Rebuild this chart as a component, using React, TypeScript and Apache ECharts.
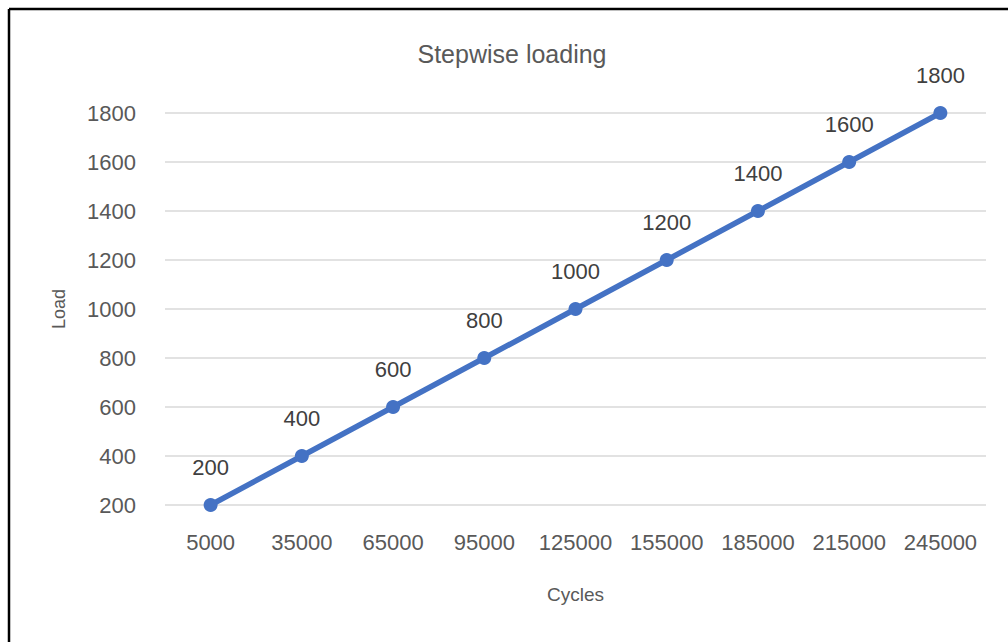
import React, { useEffect, useRef } from "react";
import * as echarts from "echarts";

const cycles: string[] = ["5000", "35000", "65000", "95000", "125000", "155000", "185000", "215000", "245000"];
const load: number[] = [200, 400, 600, 800, 1000, 1200, 1400, 1600, 1800];
const titleText = "Stepwise loading";
const xName = "Cycles";
const yName = "Load";

export default function App() {
  const ref = useRef<HTMLDivElement>(null);
  useEffect(() => {
    if (!ref.current) return;
    const chart = echarts.init(ref.current, undefined, { renderer: "svg" });
    const grey = "#595959";
    const font = "Arial, 'Liberation Sans', sans-serif";
    chart.setOption({
      animation: false,
      backgroundColor: "#ffffff",
      textStyle: { fontFamily: font },
      title: {
        text: titleText,
        left: 507,
        top: 36,
        textAlign: "center",
        textStyle: { fontSize: 25, fontWeight: "normal", color: grey, fontFamily: font },
      },
      grid: { left: 165, right: 22, top: 113, bottom: 137 },
      xAxis: {
        type: "category",
        data: cycles,
        boundaryGap: true,
        axisLine: { show: false },
        axisTick: { show: false },
        axisLabel: { color: grey, fontSize: 22, margin: 26, fontFamily: font, interval: 0 },
        name: xName,
        nameLocation: "middle",
        nameGap: 80,
        nameTextStyle: { color: grey, fontSize: 19, fontFamily: font },
      },
      yAxis: {
        type: "value",
        min: 200,
        max: 1800,
        interval: 200,
        axisLine: { show: false },
        axisTick: { show: false },
        axisLabel: {
          color: grey,
          fontSize: 22,
          margin: 29,
          fontFamily: font,
          formatter: (v: number) => String(v),
        },
        splitLine: { lineStyle: { color: "#d9d9d9", width: 1.5 } },
        name: yName,
        nameLocation: "middle",
        nameGap: 97,
        nameRotate: 90,
        nameTextStyle: { color: grey, fontSize: 18, fontFamily: font },
      },
      series: [
        {
          type: "line",
          data: load,
          symbol: "circle",
          symbolSize: 14,
          lineStyle: { color: "#4472C4", width: 5.5 },
          itemStyle: { color: "#4472C4" },
          label: {
            show: true,
            position: "top",
            distance: 20,
            color: "#404040",
            fontSize: 22,
            fontFamily: font,
          },
        },
      ],
      graphic: [
        { type: "line", shape: { x1: 9, y1: 9, x2: 1008, y2: 9 }, style: { stroke: "#000", lineWidth: 2.5 } },
        { type: "line", shape: { x1: 9, y1: 9, x2: 9, y2: 642 }, style: { stroke: "#000", lineWidth: 2.5 } },
      ],
    });
    return () => chart.dispose();
  }, []);
  return (
    <div
      ref={ref}
      style={{ position: "absolute", left: 0, top: 0, width: 1008, height: 642 }}
    />
  );
}
